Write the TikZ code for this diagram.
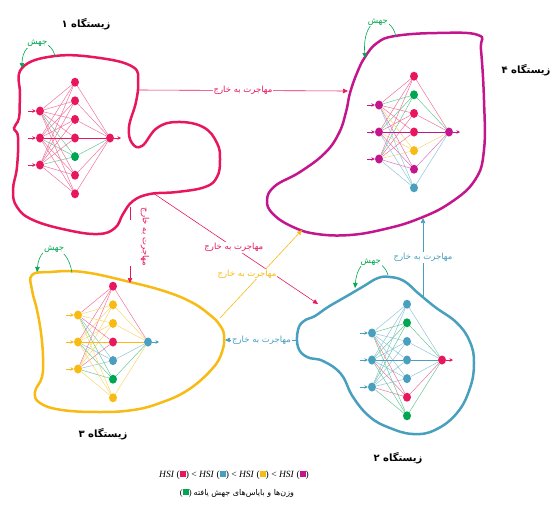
\documentclass[tikz,border=0pt]{standalone}
\usepackage{fontspec}
\usetikzlibrary{arrows.meta,shapes.geometric}
\TeXXeTstate=1
\newfontfamily\fafont[Script=Arabic]{DejaVu Sans}
\newfontfamily\hsifont{Liberation Serif}
\definecolor{habRed}{RGB}{232,23,93}
\definecolor{habMag}{RGB}{196,22,140}
\definecolor{habYel}{RGB}{247,187,20}
\definecolor{habBlue}{RGB}{72,160,190}
\definecolor{habGreen}{RGB}{0,166,81}
\newcommand{\fatext}[1]{{\fafont\beginR#1\endR}}
\newcommand{\sqbox}[1]{\textcolor{#1}{\rule[0.3pt]{6pt}{6pt}}}
% #1 prefix, #2 centre, #3 input colour, #4 hidden colours, #5 output colour
\newcommand{\habnet}[5]{%
  \begin{scope}[shift={#2}]
    \foreach \k in {1,2,3} {
      \coordinate (#1a\k) at (-47,{(\k-2)*27});
      \node[neuron, fill=#3] (#1i\k) at (-35,{(\k-2)*27}) {};
    }
    \foreach \col [count=\k] in {#4}
      \node[neuron, fill=\col] (#1h\k) at (0,{(\k-4)*18.6}) {};
    \node[neuron, fill=#5] (#1o) at (35,0) {};
    \coordinate (#1z) at (46,0);
  \end{scope}
  \foreach \col [count=\k] in {#4} {
    \foreach \j in {1,2,3}
      \draw[wire, draw=\col!60] (#1i\j) -- (#1h\k);
    \draw[wire, draw=\col!60] (#1h\k) -- (#1o);
  }
  \draw[wire, #3, line width=0.8pt] (#1i2) -- (#1h4) -- (#1o);
  \foreach \k in {1,2,3}
    \draw[feed, #3] (#1a\k) -- (#1i\k);
  \draw[feed, #5] (#1o) -- (#1z);
}

\begin{document}
\begin{tikzpicture}[x=1pt, y=-1pt,
    hab/.style={line width=2.5pt},
    neuron/.style={ellipse, minimum width=8pt, minimum height=9pt, inner sep=0pt},
    wire/.style={line width=0.5pt},
    feed/.style={line width=0.6pt, -{Stealth[length=3.5pt,width=3.5pt]}},
    mig/.style={line width=0.6pt, -{Triangle[length=5pt,width=4.5pt]}},
    mut/.style={habGreen, line width=0.6pt, -{Triangle[length=5pt,width=4.5pt]}},
    lbl/.style={fill=white, inner sep=1pt, font=\fontsize{8.5}{10}\selectfont},
    title/.style={font=\bfseries\fontsize{10}{12}\selectfont}
  ]
  \useasboundingbox (0,0) rectangle (555,509);

  % habitats
  \draw[hab, habRed] plot[smooth cycle, tension=0.7] coordinates {
    (22,68) (55,56) (100,58) (133,67) (138,82) (136,102) (129,127) (132,143)
    (142,146) (157,128) (177,122) (203,127) (217,143) (220,160) (217,177)
    (205,187) (177,192) (150,194) (133,201) (123,214) (115,228) (98,234)
    (67,230) (33,220) (17,207) (13,190) (17,167) (18,137) (14,128) (19,118) (20,95)};
  \draw[hab, habMag] plot[smooth cycle, tension=0.7] coordinates {
    (478,35) (437,33) (395,36) (377,43) (365,57) (357,73) (350,93) (346,112)
    (339,133) (325,153) (300,172) (275,186) (267,200) (273,214) (293,227)
    (317,234) (350,235) (385,229) (418,219) (450,203) (475,180) (484,150)
    (484,100) (481,50)};
  \draw[hab, habYel] plot[smooth cycle, tension=0.7] coordinates {
    (32,275) (50,272) (83,272) (130,282) (167,292) (193,303) (210,315)
    (219,324) (224,335) (222,352) (212,369) (188,390) (160,403) (133,410)
    (100,412) (62,410) (40,403) (35,392) (42,377) (43,357) (41,333) (37,310) (32,290)};
  \draw[hab, habBlue] plot[smooth cycle, tension=0.7] coordinates {
    (390,277) (404,281) (418,293) (435,307) (457,323) (470,342) (474,363)
    (470,388) (457,413) (435,430) (413,434) (390,428) (370,417) (353,397)
    (341,374) (323,361) (307,357) (298,347) (298,330) (304,321) (315,316)
    (328,307) (347,296) (364,286) (378,278)};

  \node[title] (t1) at (86,24) {\fatext{زیستگاه ۱}};
  \node[title, anchor=east] (t4) at (554,70) {\fatext{زیستگاه ۴}};
  \node[title] (t3) at (103,434) {\fatext{زیستگاه ۳}};
  \node[title] (t2) at (398,458) {\fatext{زیستگاه ۲}};

  % networks
  \habnet{a}{(75,138)}{habRed}{habRed,habRed,habRed,habRed,habGreen,habRed,habRed}{habRed}
  \habnet{d}{(414,132)}{habMag}{habRed,habGreen,habRed,habRed,habYel,habMag,habBlue}{habMag}
  \habnet{c}{(113,342)}{habYel}{habRed,habYel,habYel,habRed,habBlue,habGreen,habYel}{habBlue}
  \habnet{b}{(407,360)}{habBlue}{habBlue,habGreen,habBlue,habBlue,habBlue,habRed,habGreen}{habRed}

  % migration
  \coordinate (h1e) at (138,90);   \coordinate (h4w) at (348,91);
  \coordinate (h1s) at (153,193);  \coordinate (h2n) at (318,304);
  \coordinate (h1b) at (130,207);  \coordinate (v1) at (130,220);
  \coordinate (v2) at (130,266);   \coordinate (h3n) at (130,283);
  \coordinate (h3e) at (220,318);  \coordinate (h4s) at (302,230);
  \coordinate (h2t) at (423,297);  \coordinate (h4b) at (423,218);
  \coordinate (h2w) at (298,340);  \coordinate (h3r) at (225,340);

  \draw[mig, habRed] (h1e) -- node[lbl, text=habRed] (m14) {\fatext{مهاجرت به خارج}} (h4w);
  \draw[mig, habRed] (h1s) -- node[lbl, text=habRed, pos=0.49] (m12) {\fatext{مهاجرت به خارج}} (h2n);
  \draw[line width=0.6pt, habRed] (h1b) -- (v1);
  \draw[mig, habRed] (v2) -- (h3n);
  \node[lbl, text=habRed, rotate=-90] (m13) at (145,237) {\fatext{مهاجرت به خارج}};
  \draw[mig, habYel] (h3e) -- node[lbl, text=habYel, xshift=-14] (m34) {\fatext{مهاجرت به خارج}} (h4s);
  \draw[mig, habBlue] (h2t) -- node[lbl, text=habBlue] (m24) {\fatext{مهاجرت به خارج}} (h4b);
  \draw[mig, habBlue] (h2w) -- node[lbl, text=habBlue] (m23) {\fatext{مهاجرت به خارج}} (h3r);

  % mutation
  \draw[mut] (55,57) .. controls (52,36) and (22,38) .. node[lbl, text=habGreen] (j1) {\fatext{جهش}} (22,68);
  \draw[mut] (396,37) .. controls (392,14) and (362,12) .. node[lbl, text=habGreen] (j4) {\fatext{جهش}} (365,58);
  \draw[mut] (72,273) .. controls (68,243) and (40,240) .. node[lbl, text=habGreen] (j3) {\fatext{جهش}} (37,272);
  \draw[mut] (388,275) .. controls (383,258) and (358,252) .. node[lbl, text=habGreen] (j2) {\fatext{جهش}} (355,288);

  % legend
  \node (hsi) at (234,475) {\hsifont\fontsize{9.5}{11}\selectfont
    \textit{HSI} (\sqbox{habRed}) < \textit{HSI} (\sqbox{habBlue}) <
    \textit{HSI} (\sqbox{habYel}) < \textit{HSI} (\sqbox{habMag})};
  \node (mutleg) at (237,493) {\hsifont\fontsize{8.5}{10}\selectfont
    (\sqbox{habGreen})\ \fatext{\fontsize{8}{10}\selectfont وزن‌ها و بایاس‌های جهش یافته}};
\end{tikzpicture}
\end{document}
